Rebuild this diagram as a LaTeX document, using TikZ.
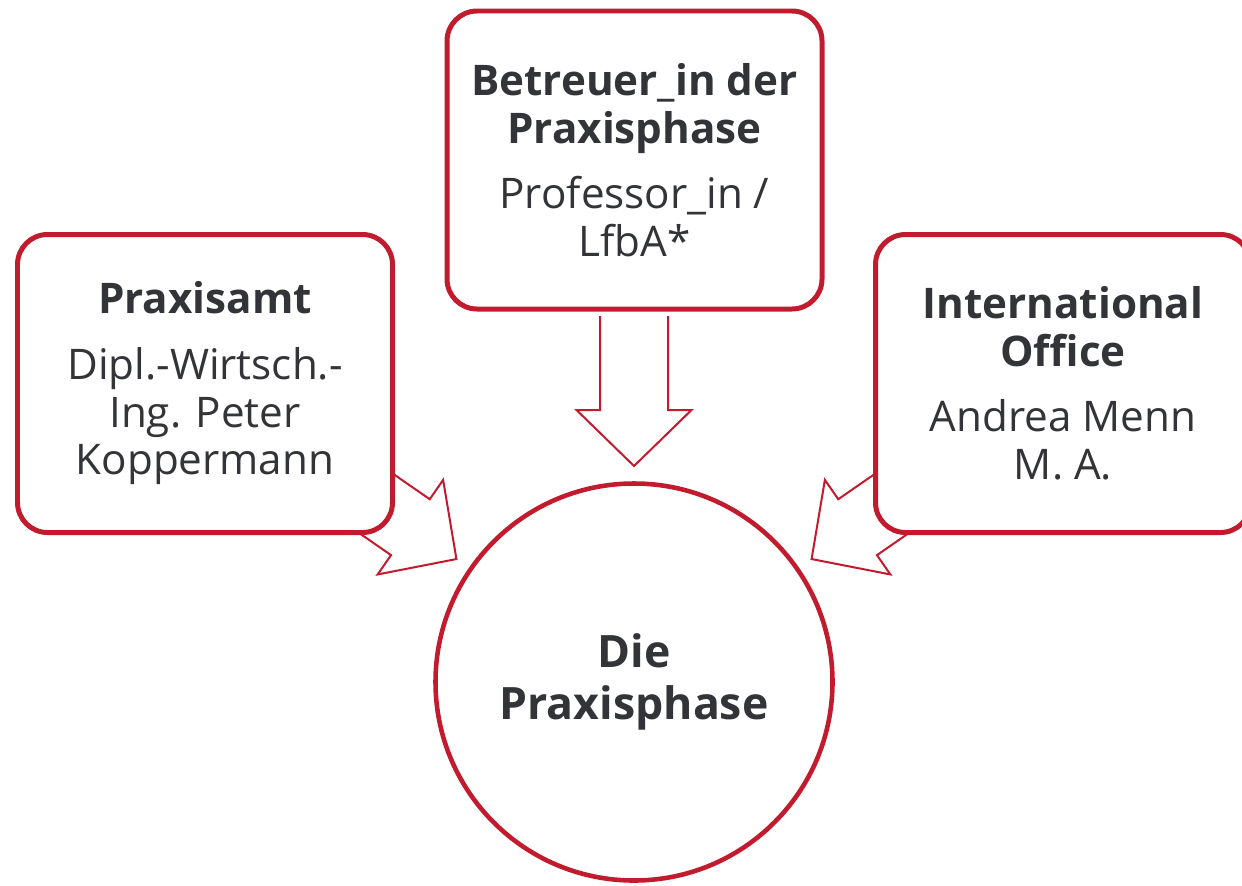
\documentclass[tikz,border=0pt]{standalone}
\usepackage{fontspec}
\setmainfont{Open Sans}
\usetikzlibrary{calc}

\definecolor{hsred}{RGB}{193,27,45}
\definecolor{hsgray}{RGB}{50,52,55}

\tikzset{
  infobox/.style={draw=hsred, line width=1.42pt, fill=white, rounded corners=0.3cm,
    minimum width=3.75cm, minimum height=2.98cm, align=center, text=hsgray,
    font=\fontsize{12}{13.6}\selectfont},
  phasecircle/.style={draw=hsred, line width=1.3pt, circle, minimum size=3.97cm,
    align=center, text=hsgray, font=\fontsize{12.7}{14.8}\selectfont\bfseries},
  arrowline/.style={draw=hsred, line width=0.57pt, fill=white, line join=miter},
  pics/bigarrow/.style={code={
    \draw[arrowline] (-1.5,0.34) -- (-0.56,0.34) -- (-0.56,0.575) -- (0,0)
      -- (-0.56,-0.575) -- (-0.56,-0.34) -- (-1.5,-0.34);
  }}
}

\begin{document}
\begin{tikzpicture}
  \useasboundingbox (0,0) rectangle (12.42,8.85);
  \clip (0,0) rectangle (12.42,8.85);

  \node[phasecircle] (phase) at (6.34,2.03) {Die\\Praxisphase};

  % arrows towards the circle
  \pic[rotate=-90] at ($(phase.center)+(90:2.16)$) {bigarrow};
  \pic[rotate=-34.7] at ($(phase.center)+(145.3:2.16)$) {bigarrow};
  \pic[rotate=214.7] at ($(phase.center)+(34.7:2.16)$) {bigarrow};

  \node[infobox] (betreuer) at (6.345,7.25)
    {\textbf{Betreuer\_in der}\\\textbf{Praxisphase}\\[5pt]Professor\_in /\\LfbA*};
  \node[infobox] (praxisamt) at (2.05,5.015)
    {\textbf{Praxisamt}\\[5pt]Dipl.-Wirtsch.-\\Ing. Peter\\Koppermann};
  \node[infobox] (office) at (10.63,5.015)
    {\textbf{International}\\\textbf{Office}\\[5pt]Andrea Menn\\M. A.};

\end{tikzpicture}
\end{document}
